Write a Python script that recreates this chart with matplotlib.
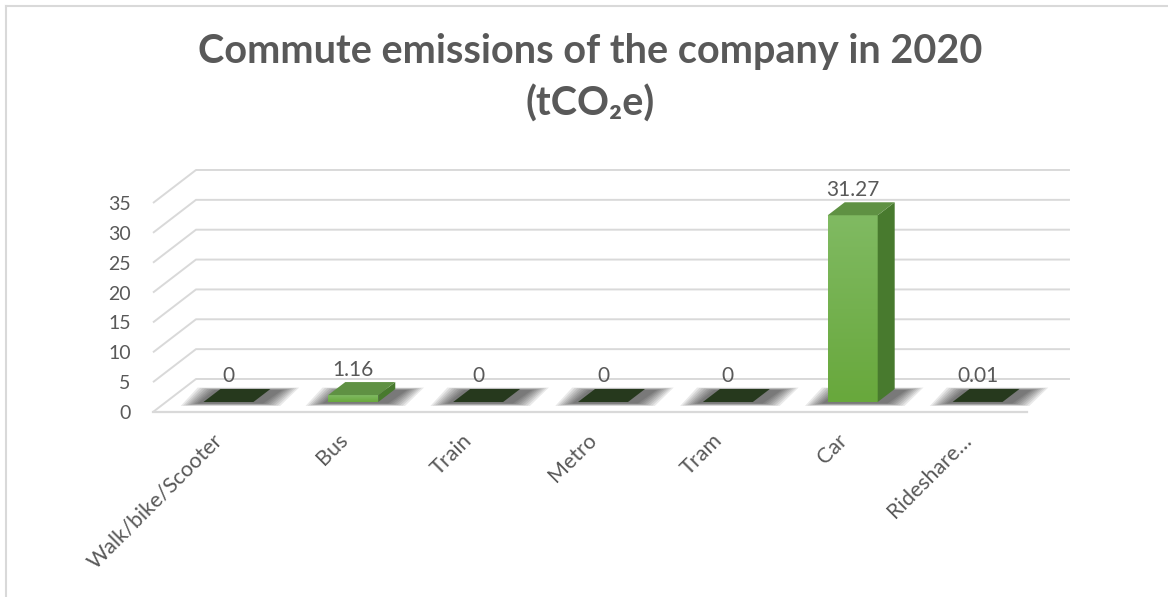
import numpy as np
import matplotlib
matplotlib.use('Agg')
import matplotlib.pyplot as plt
from matplotlib.patches import Polygon
from matplotlib.lines import Line2D
import matplotlib.transforms as mtransforms

# commute emissions per mode, tCO2e
modes = ['Walk/bike/Scooter', 'Bus', 'Train', 'Metro', 'Tram', 'Car', 'Rideshare…']
emissions = [0, 1.16, 0, 0, 0, 31.27, 0.01]
value_labels = ['0', '1.16', '0', '0', '0', '31.27', '0.01']
y_ticks = [0, 5, 10, 15, 20, 25, 30, 35]

W_PX, H_PX = 1168, 597
XU = 124.9   # pixels per category
YU = 5.97    # pixels per tCO2e

# pseudo-3d geometry (in pixels, converted to data units below)
wall_dx, wall_dy = 43 / XU, 33 / YU
bar_w = 50 / XU
bar_fx, bar_fy = 13 / XU, 10 / YU
bar_dx, bar_dy = 17 / XU, 13 / YU

text_col = '#595959'
grid_col = '#d9d9d9'
plt.rcParams['font.family'] = ['Lato', 'DejaVu Sans']

fig = plt.figure(figsize=(W_PX / 100, H_PX / 100), dpi=100)
ax = fig.add_axes([153 / W_PX, (H_PX - 412) / H_PX, 874 / W_PX, 209 / H_PX])
n = len(modes)
ax.set_xlim(-0.5, n - 0.5)
ax.set_ylim(0, 35)
for s in ax.spines.values():
    s.set_visible(False)

# side wall + back wall gridlines
for v in y_ticks:
    ax.plot([-0.5, -0.5 + wall_dx, n - 0.5 + wall_dx], [v, v + wall_dy, v + wall_dy],
            color=grid_col, lw=1.4, clip_on=False, zorder=1, solid_capstyle='butt')
ax.plot([-0.5, n - 0.5], [0, 0], color=grid_col, lw=1.6, clip_on=False, zorder=1)

ax.set_yticks(y_ticks)
ax.set_yticklabels([str(t) for t in y_ticks], fontsize=14, color=text_col)
ax.tick_params(axis='y', length=0, pad=16)

ax.set_xticks(range(n))
ax.set_xticklabels(modes, rotation=45, ha='right', va='center', rotation_mode='anchor',
                   fontsize=15.5, color=text_col)
ax.tick_params(axis='x', length=0, pad=18)
shift = mtransforms.ScaledTranslation(4 / 100, 0, fig.dpi_scale_trans)
for lab in ax.get_xticklabels():
    lab.set_transform(lab.get_transform() + shift)


def vgrad(x0, x1, y0, y1, c_top, c_bot, z):
    c0 = np.array(matplotlib.colors.to_rgb(c_bot))
    c1 = np.array(matplotlib.colors.to_rgb(c_top))
    t = np.linspace(0, 1, 64)[:, None]
    img = (c0 + (c1 - c0) * t)[:, None, :]
    ax.imshow(img, extent=[x0, x1, y0, y1], origin='lower', aspect='auto',
              zorder=z, clip_on=False, interpolation='bilinear')


for i, v in enumerate(emissions):
    xl = i + bar_fx - bar_w / 2
    xr = i + bar_fx + bar_w / 2
    yb = bar_fy
    yt = bar_fy + v

    # soft shadow on the floor
    for k in range(8):
        grow = k * 2.4 / XU
        gy = k * 0.35 / YU
        pts = [(xl - 6 / XU - grow, yb - 1.5 / YU - gy),
               (xr + 10 / XU + grow, yb - 1.5 / YU - gy),
               (xr + bar_dx + 12 / XU + grow, yb + bar_dy - 1 / YU + gy),
               (xl + bar_dx - 6 / XU - grow, yb + bar_dy - 1 / YU + gy)]
        ax.add_patch(Polygon(pts, closed=True, facecolor='black', edgecolor='none',
                             alpha=0.085, zorder=2, clip_on=False))

    if v < 0.05:
        top = [(xl, yt), (xr, yt), (xr + bar_dx, yt + bar_dy), (xl + bar_dx, yt + bar_dy)]
        ax.add_patch(Polygon(top, closed=True, facecolor='#26391d', edgecolor='none',
                             zorder=4, clip_on=False))
    else:
        vgrad(xl, xr, yb, yt, '#80ba62', '#68a83c', 4)
        side = [(xr, yb), (xr + bar_dx, yb + bar_dy), (xr + bar_dx, yt + bar_dy), (xr, yt)]
        ax.add_patch(Polygon(side, closed=True, facecolor='#487a2e', edgecolor='none',
                             zorder=4, clip_on=False))
        top = [(xl, yt), (xr, yt), (xr + bar_dx, yt + bar_dy), (xl + bar_dx, yt + bar_dy)]
        ax.add_patch(Polygon(top, closed=True, facecolor='#5f9143', edgecolor='none',
                             zorder=4, clip_on=False))

    ax.annotate(value_labels[i], xy=(i + bar_fx, yt + bar_dy), xytext=(0, 9),
                textcoords='offset points', ha='center', va='center',
                fontsize=15, color=text_col, zorder=6, annotation_clip=False)

fig.text(0.505, 1 - 52 / H_PX, 'Commute emissions of the company in 2020',
         ha='center', va='center', fontsize=28.5, fontweight='bold', color=text_col)
fig.text(0.505, 1 - 104 / H_PX, '(tCO₂e)',
         ha='center', va='center', fontsize=28.5, fontweight='bold', color=text_col)

# chart area border
fig.add_artist(Line2D([6 / W_PX, 1], [1 - 6 / H_PX, 1 - 6 / H_PX], color=grid_col, lw=1.5))
fig.add_artist(Line2D([6 / W_PX, 6 / W_PX], [0, 1 - 6 / H_PX], color=grid_col, lw=1.5))

fig.savefig('out.png', dpi=100)
